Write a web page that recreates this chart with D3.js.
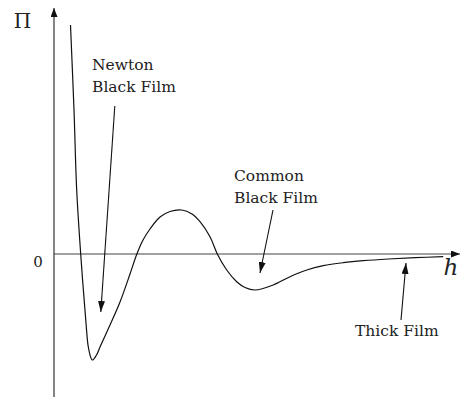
<!DOCTYPE html>
<html>
<head>
<meta charset="utf-8">
<script src="https://cdn.jsdelivr.net/npm/d3@7"></script>
<style>
  html, body { margin: 0; padding: 0; background: #fff; }
  svg { display: block; }
</style>
</head>
<body>
<svg id="chart" width="460" height="397"></svg>
<script>
// Disjoining pressure Π as a function of film thickness h (schematic units)
const hValues  = [0.4125, 0.50, 0.5675, 0.6675, 0.80, 0.8625, 0.9575, 1.0625, 1.15, 1.40, 1.65, 1.90, 2.0625, 2.225, 2.40, 2.65, 2.90, 3.1925, 3.45, 3.65, 3.90, 4.0825, 4.3175, 4.5675, 4.775, 5.025, 5.48, 5.90, 6.32, 6.73, 7.23, 7.73, 8.36, 9.03, 9.73];
const piValues = [2.29, 1.44, 0.64, 0.00, -0.69, -0.94, -1.06, -1.01, -0.93, -0.71, -0.48, -0.20, -0.01, 0.14, 0.25, 0.37, 0.425, 0.44, 0.40, 0.323, 0.173, 0.00, -0.16, -0.277, -0.335, -0.36, -0.31, -0.227, -0.16, -0.117, -0.087, -0.067, -0.05, -0.037, -0.027];

// Axis labels
const yAxisLabel = "Π";
const xAxisLabel = "h";
const zeroLabel = "0";

// Annotated regimes: label lines, label anchor and arrow (tail -> tip), in data units
const annotationLines = [["Newton", "Black Film"], ["Common", "Black Film"], ["Thick Film"]];
const annotationText  = [[0.95, 1.84], [4.50, 0.73], [7.525, -0.82]];
const arrowTails      = [[1.52, 1.48], [5.475, 0.44], [8.675, -0.66]];
const arrowTips       = [[1.17, -0.58], [5.15, -0.19], [8.80, -0.09]];

const serif = "DejaVu Serif";
const svg = d3.select("#chart");
const x = d3.scaleLinear().domain([0, 10.15]).range([54, 460]);
const y = d3.scaleLinear().domain([-1.43, 2.46]).range([397, 8]);

const defs = svg.append("defs");
function marker(id, len, wid, color) {
  defs.append("marker")
    .attr("id", id)
    .attr("viewBox", `0 ${-wid / 2} ${len} ${wid}`)
    .attr("refX", len).attr("refY", 0)
    .attr("markerUnits", "userSpaceOnUse")
    .attr("markerWidth", len).attr("markerHeight", wid)
    .attr("orient", "auto")
    .append("path")
    .attr("d", `M0,${-wid / 2}L${len},0L0,${wid / 2}Z`)
    .attr("fill", color);
}
marker("axisHead", 9, 7, "#111");
marker("noteHead", 11, 7, "#111");

// Axes
svg.append("line")
  .attr("x1", x(0)).attr("y1", y.range()[0])
  .attr("x2", x(0)).attr("y2", y.range()[1])
  .attr("stroke", "#333").attr("stroke-width", 1.2)
  .attr("marker-end", "url(#axisHead)");
svg.append("line")
  .attr("x1", x(0)).attr("y1", y(0))
  .attr("x2", x.range()[1]).attr("y2", y(0))
  .attr("stroke", "#444").attr("stroke-width", 1.2)
  .attr("marker-end", "url(#axisHead)");

// Curve
const pts = hValues.map((h, i) => [h, piValues[i]]);
svg.append("path")
  .datum(pts)
  .attr("fill", "none")
  .attr("stroke", "#111")
  .attr("stroke-width", 1.2)
  .attr("d", d3.line().x(d => x(d[0])).y(d => y(d[1])).curve(d3.curveCatmullRom.alpha(0.5)));

// Axis labels
svg.append("text").attr("x", 22.5).attr("y", 28).attr("text-anchor", "middle")
  .attr("font-family", serif).attr("font-size", 20).attr("fill", "#222").text(yAxisLabel);
svg.append("text").attr("x", 38).attr("y", 267).attr("text-anchor", "middle")
  .attr("font-family", serif).attr("font-size", 15).attr("fill", "#222").text(zeroLabel);
svg.append("text").attr("x", 451).attr("y", 275).attr("text-anchor", "middle")
  .attr("font-family", serif).attr("font-size", 23).attr("font-style", "italic")
  .attr("fill", "#222").text(xAxisLabel);

// Annotations
annotationLines.forEach((lines, i) => {
  const t = svg.append("text")
    .attr("x", x(annotationText[i][0])).attr("y", y(annotationText[i][1]))
    .attr("font-family", serif).attr("font-size", 15.5).attr("fill", "#222");
  lines.forEach((s, j) => {
    t.append("tspan").attr("x", x(annotationText[i][0])).attr("dy", j === 0 ? 0 : 22).text(s);
  });
  svg.append("line")
    .attr("x1", x(arrowTails[i][0])).attr("y1", y(arrowTails[i][1]))
    .attr("x2", x(arrowTips[i][0])).attr("y2", y(arrowTips[i][1]))
    .attr("stroke", "#111").attr("stroke-width", 1.1)
    .attr("marker-end", "url(#noteHead)");
});
</script>
</body>
</html>
